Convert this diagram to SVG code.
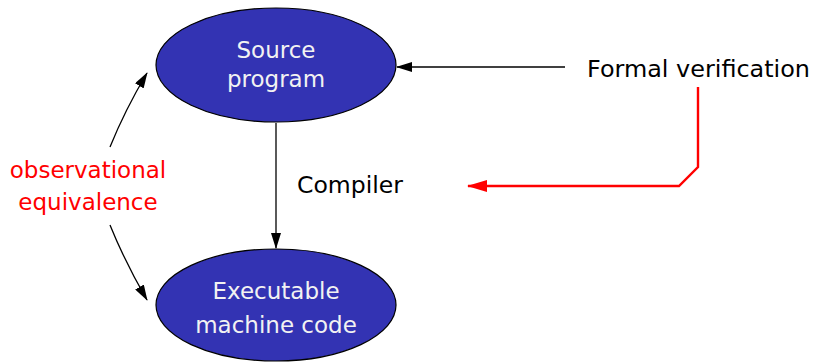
<svg xmlns="http://www.w3.org/2000/svg" width="814" height="363" viewBox="0 0 814 363">
<style>
.node{fill:#3333b3;stroke:#000;stroke-width:1.2}
.nt{font-family:"DejaVu Sans","Liberation Sans",sans-serif;font-size:23px;fill:#f2f2f2;text-anchor:middle}
.lbl{font-family:"DejaVu Sans","Liberation Sans",sans-serif;font-size:23px;fill:#000}
.red{fill:#ff0000}
.edge{fill:none;stroke:#000;stroke-width:1.3}
.redge{fill:none;stroke:#ff0000;stroke-width:2.4}
</style>
<defs>
<marker id="ah" markerWidth="16" markerHeight="10" refX="15" refY="5" orient="auto" markerUnits="userSpaceOnUse">
<path d="M0,0 L16,5 L0,10 Z" fill="#000"/>
</marker>
<marker id="rah" markerWidth="20" markerHeight="12" refX="19" refY="6" orient="auto" markerUnits="userSpaceOnUse">
<path d="M0,0 L20,6 L0,12 Z" fill="#ff0000"/>
</marker>
</defs>
<g id="source">
<ellipse class="node" cx="276" cy="65" rx="120" ry="57"/>
<text class="nt" x="276" y="58">Source</text>
<text class="nt" x="276" y="87">program</text>
</g>
<g id="exec">
<ellipse class="node" cx="276" cy="305" rx="120" ry="56"/>
<text class="nt" x="276" y="299">Executable</text>
<text class="nt" x="276" y="333">machine code</text>
</g>
<g id="formal">
<text class="lbl" x="587" y="77" textLength="223" lengthAdjust="spacingAndGlyphs">Formal verification</text>
</g>
<g id="compiler">
<text class="lbl" x="297" y="193" textLength="106" lengthAdjust="spacingAndGlyphs">Compiler</text>
</g>
<g id="obs">
<text class="lbl red" x="88" y="178" text-anchor="middle">observational</text>
<text class="lbl red" x="88" y="210" text-anchor="middle">equivalence</text>
</g>
<g id="connectors">
<line class="edge" x1="276" y1="123" x2="276" y2="248" marker-end="url(#ah)"/>
<line class="edge" x1="565" y1="67" x2="397" y2="67" marker-end="url(#ah)"/>
<path class="edge" d="M110,147 Q125,110 147,73" marker-end="url(#ah)"/>
<path class="edge" d="M110,225 Q125,262 147,300" marker-end="url(#ah)"/>
<path class="redge" d="M698,87 L698,167 L679,186 L468,186" marker-end="url(#rah)"/>
</g>
</svg>
